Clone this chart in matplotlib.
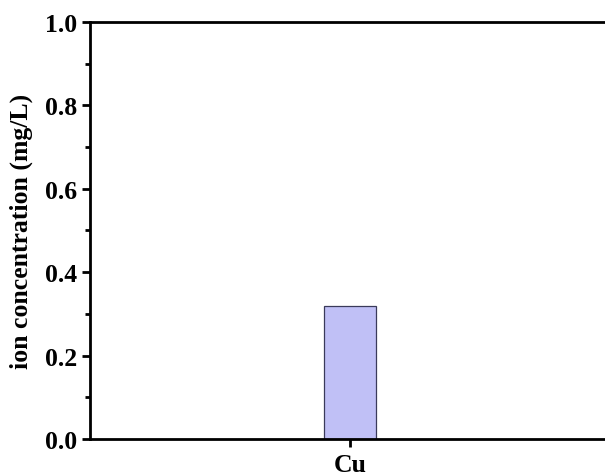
import numpy as np
import matplotlib.pyplot as plt
from matplotlib.ticker import MultipleLocator

# measured ion concentrations
ions = ["Cu"]
conc = [0.32]

plt.rcParams["font.family"] = ["Liberation Serif", "DejaVu Serif"]
plt.rcParams["font.weight"] = "bold"

W, H = 605, 477
fig = plt.figure(figsize=(W / 100, H / 100), dpi=100)
# the plot frame runs slightly past the right edge of the canvas
ax = fig.add_axes([90 / W, 1 - 440 / H, 520 / W, 417 / H])

x = np.arange(len(ions))
ax.bar(x, conc, width=0.2, color="#c0c0f6", edgecolor="#3a3a5a", linewidth=0.9, zorder=2)

ax.set_xlim(-1, 1)
ax.set_ylim(0, 1.0)
ax.set_xticks(x)
ax.set_xticklabels(ions)
ax.yaxis.set_major_locator(MultipleLocator(0.2))
ax.yaxis.set_minor_locator(MultipleLocator(0.1))
ax.yaxis.set_major_formatter(lambda v, p: f"{v:.1f}")

for s in ax.spines.values():
    s.set_linewidth(2)
ax.tick_params(axis="both", which="major", direction="out", length=6, width=2,
               labelsize=18.5, pad=3)
ax.tick_params(axis="x", which="major", pad=4)
ax.tick_params(axis="y", which="minor", direction="out", length=3.5, width=2)
for lab in ax.get_xticklabels() + ax.get_yticklabels():
    lab.set_fontweight("bold")

ax.set_ylabel("ion concentration (mg/L)", fontsize=18.5, fontweight="bold", labelpad=9)

fig.savefig("out.png", dpi=100)
